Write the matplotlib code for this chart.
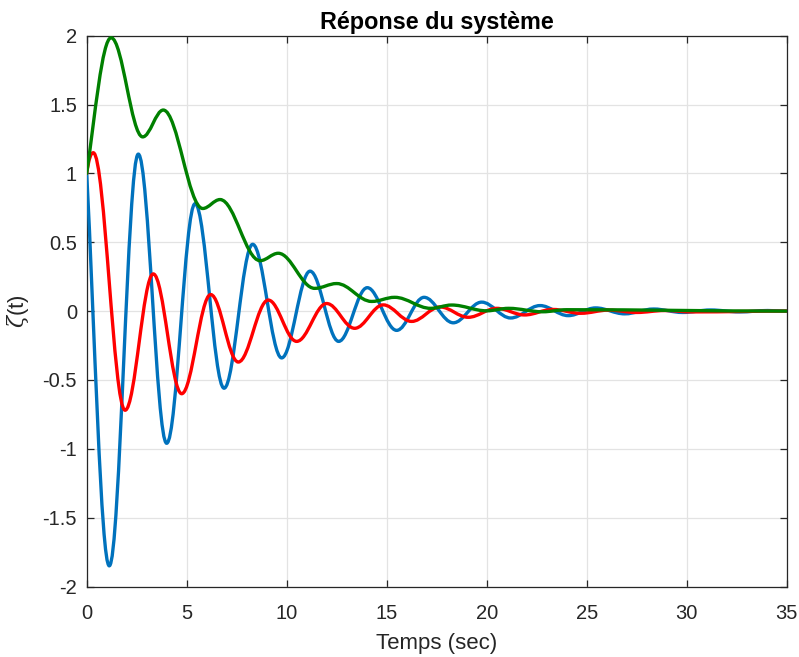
import matplotlib
matplotlib.use("Agg")
import matplotlib.pyplot as plt
from matplotlib.path import Path
from matplotlib.patches import PathPatch

plt.rcParams['font.family'] = ['Liberation Sans', 'DejaVu Sans']
plt.rcParams['axes.unicode_minus'] = False
plt.rcParams['mathtext.fontset'] = 'dejavuserif'

# turning points of each response (time in s, value), first entry is t = 0
blue_t = [0.0, 1.13, 2.58, 4.0, 5.42, 6.87, 8.3, 9.75, 11.17, 12.6, 14.03, 15.5,
          16.87, 18.33, 19.75, 21.2, 22.67, 24.08, 25.45, 26.9, 28.35, 29.8,
          31.2, 32.65, 34.05, 35.0]
blue_v = [1.0, -1.85, 1.14, -0.96, 0.78, -0.56, 0.485, -0.34, 0.29, -0.22, 0.17,
          -0.14, 0.10, -0.085, 0.065, -0.05, 0.04, -0.033, 0.023, -0.02, 0.015,
          -0.01, 0.008, -0.006, 0.004, 0.0]

red_t = [0.0, 0.33, 1.92, 3.33, 4.75, 6.2, 7.58, 9.08, 10.5, 12.0, 13.4, 14.83,
         16.25, 17.67, 19.08, 20.5, 21.9, 23.3, 24.7, 26.1, 27.5, 28.9, 30.3, 35.0]
red_v = [1.0, 1.15, -0.72, 0.27, -0.60, 0.12, -0.37, 0.08, -0.22, 0.055, -0.125,
         0.045, -0.075, 0.03, -0.045, 0.02, -0.028, 0.012, -0.016, 0.007, -0.01,
         0.004, -0.006, 0.0]

green_t = [0.0, 1.22, 2.8, 3.83, 5.8, 6.67, 8.67, 9.58, 11.4, 12.5, 14.25, 15.4,
           17.2, 18.25, 20.0, 21.1, 22.8, 24.0, 35.0]
green_v = [1.0, 1.985, 1.265, 1.46, 0.745, 0.81, 0.366, 0.42, 0.165, 0.2, 0.07,
           0.1, 0.02, 0.044, 0.002, 0.02, -0.005, 0.01, 0.0]

# slope of each curve at t = 0
start_slope = {'blue': -2.8, 'red': 1.0, 'green': 1.0}

x_ticks = [0, 5, 10, 15, 20, 25, 30, 35]
y_ticks = [-2, -1.5, -1, -0.5, 0, 0.5, 1, 1.5, 2]
y_labels = ['-2', '-1.5', '-1', '-0.5', '0', '0.5', '1', '1.5', '2']


def response_path(t, v, slope0):
    # cubic segments between turning points, flat tangent at each extremum
    verts = [(t[0], v[0])]
    codes = [Path.MOVETO]
    for i in range(len(t) - 1):
        h = t[i + 1] - t[i]
        if i == 0:
            k0 = h / 3.0
            m0 = slope0
        else:
            k0 = 0.363 * h
            m0 = 0.0
        k1 = 0.363 * h
        verts += [(t[i] + k0, v[i] + m0 * k0), (t[i + 1] - k1, v[i + 1]), (t[i + 1], v[i + 1])]
        codes += [Path.CURVE4] * 3
    return Path(verts, codes)


fig = plt.figure(figsize=(7.99, 6.57), dpi=100)
ax = fig.add_axes([0.1085, 0.1073, 0.876, 0.8384])

curves = [(blue_t, blue_v, '#0072BD', 'blue'),
          (red_t, red_v, '#FF0000', 'red'),
          (green_t, green_v, '#008000', 'green')]
for t, v, col, key in curves:
    patch = PathPatch(response_path(t, v, start_slope[key]), facecolor='none',
                      edgecolor=col, lw=2.4, capstyle='round', joinstyle='round', zorder=3)
    ax.add_patch(patch)

ax.set_xlim(0, 35)
ax.set_ylim(-2, 2)
ax.set_xticks(x_ticks)
ax.set_yticks(y_ticks)
ax.set_yticklabels(y_labels)
ax.grid(True, color='#E3E3E3', lw=0.9)
ax.set_axisbelow(True)

for s in ax.spines.values():
    s.set_color('#262626')
    s.set_linewidth(0.9)
ax.tick_params(direction='in', top=True, right=True, length=4.8, width=0.9,
               color='#262626', labelcolor='#262626', labelsize=14.5)
ax.tick_params(axis='x', pad=12.5)
ax.tick_params(axis='y', pad=7)

ax.set_xlabel('Temps (sec)', fontsize=16, color='#262626', labelpad=7.5)
ax.set_ylabel(r'$\zeta$(t)', fontsize=16, color='#262626', labelpad=8)
ax.set_title('Réponse du système', fontsize=16.8, fontweight='bold', color='black', pad=5)

fig.savefig('out.png', dpi=100)
